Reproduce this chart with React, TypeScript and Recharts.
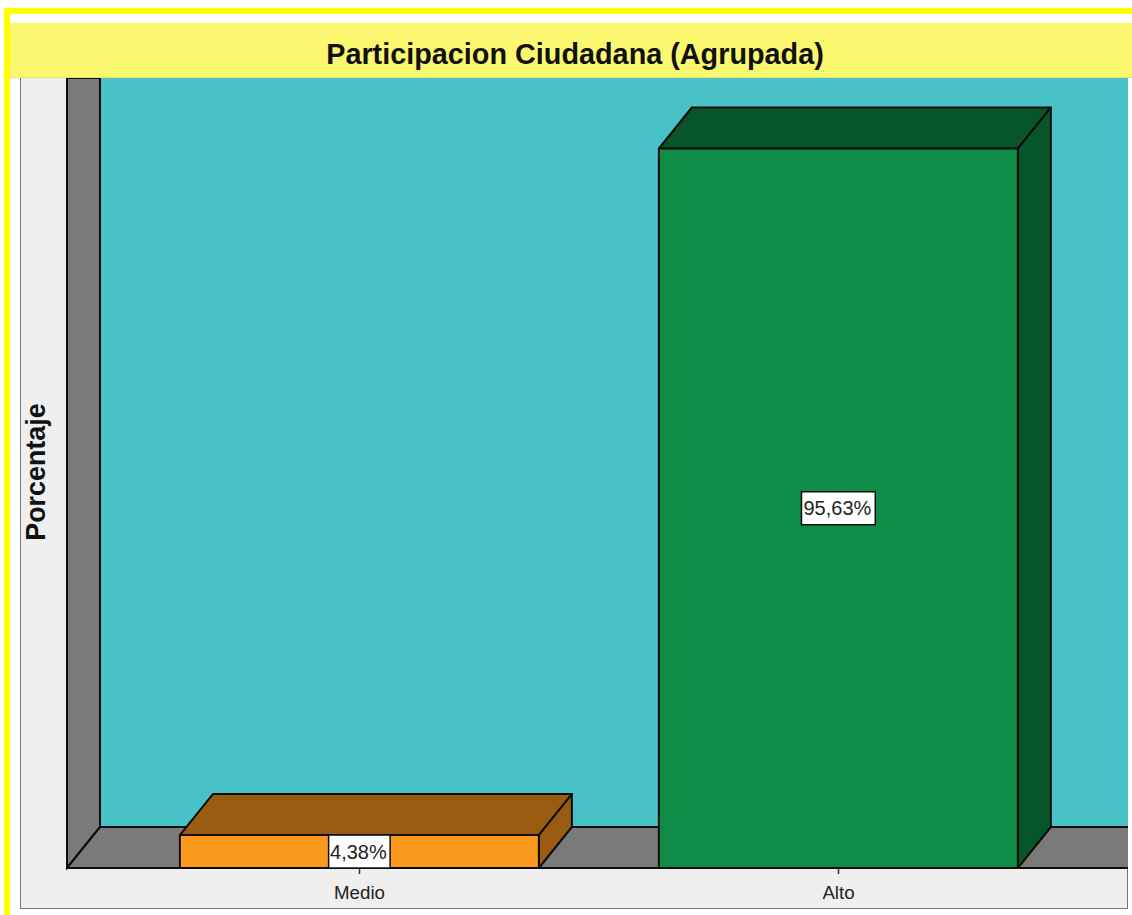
// App.tsx
import { BarChart, Bar, XAxis, YAxis, LabelList, usePlotArea } from "recharts"

const categories = ["Medio", "Alto"]
const percentages = [4.38, 95.63]
const chartTitle = "Participacion Ciudadana (Agrupada)"
const yTitle = "Porcentaje"

const data = categories.map((name, i) => ({ name, value: percentages[i] }))

const WIDTH = 1132
const HEIGHT = 915
// offset of the fake 3D depth
const DX = 33
const DY = 41

const INK = "#0d0d0d"
const barColors: Record<string, { front: string; top: string; side: string }> = {
  Medio: { front: "#fa981e", top: "#9a5c10", side: "#9a5c10" },
  Alto: { front: "#0e8c48", top: "#07562b", side: "#07562b" },
}

// back wall, side wall and floor behind the bars
function Walls() {
  const plot = usePlotArea()
  if (!plot) return null
  const { x, y, width, height } = plot
  const right = x + width
  const bottom = y + height
  return (
    <g>
      <rect x={x + DX} y={y} width={width - DX} height={height - DY} fill="#48c2c7" />
      <polygon
        points={`${x},${y} ${x + DX},${y} ${x + DX},${bottom - DY} ${x},${bottom}`}
        fill="#7a7a7a"
        stroke={INK}
        strokeWidth={2}
      />
      <polygon
        points={`${x},${bottom} ${x + DX},${bottom - DY} ${right},${bottom - DY} ${right},${bottom}`}
        fill="#7a7a7a"
      />
      {/* no stroke on the floor's right edge, it runs out into the panel */}
      <path
        d={`M${x},${bottom} L${x + DX},${bottom - DY} L${right},${bottom - DY}`}
        fill="none"
        stroke={INK}
        strokeWidth={2}
      />
    </g>
  )
}

function Bar3D(props: any) {
  const { x, y, width, height, name } = props
  const c = barColors[name]
  const r = x + width
  const b = y + height
  return (
    <g stroke={INK} strokeWidth={2} strokeLinejoin="round">
      <polygon points={`${x},${y} ${x + DX},${y - DY} ${r + DX},${y - DY} ${r},${y}`} fill={c.top} />
      <polygon points={`${r},${y} ${r + DX},${y - DY} ${r + DX},${b - DY} ${r},${b}`} fill={c.side} />
      <rect x={x} y={y} width={width} height={height} fill={c.front} />
    </g>
  )
}

function ValueBox(props: any) {
  const { x, y, width, height, value } = props
  const text = value.toFixed(2).replace(".", ",") + "%"
  const boxW = text.length * 12.3
  const boxH = 33
  const cx = x + width / 2
  const cy = y + height / 2
  return (
    <g>
      <rect x={cx - boxW / 2} y={cy - boxH / 2} width={boxW} height={boxH} fill="#fff" stroke={INK} strokeWidth={1.5} />
      <text x={cx - 1} y={cy + 7} textAnchor="middle" fontSize={20} fill="#222" fontFamily="Liberation Sans">
        {text}
      </text>
    </g>
  )
}

export default function App() {
  return (
    <div style={{ position: "fixed", left: 0, top: 0, width: WIDTH, height: HEIGHT, background: "#fff", overflow: "hidden", fontFamily: "Liberation Sans" }}>
      {/* yellow outer frame */}
      <div style={{ position: "absolute", left: 4, top: 8, width: WIDTH, height: HEIGHT, border: "6px solid #ffff00", borderRadius: 2 }} />
      {/* grey chart panel */}
      <div style={{ position: "absolute", left: 20, top: 70, width: 1108, height: 839, background: "#efefef", border: "1.5px solid #777", boxSizing: "border-box" }} />
      <div style={{ position: "absolute", left: 0, top: 0 }}>
        <BarChart
          width={WIDTH}
          height={HEIGHT}
          data={data}
          margin={{ top: 78, right: 4, bottom: 0, left: 67 }}
          barCategoryGap="12.5%"
        >
          <Walls />
          <XAxis
            dataKey="name"
            height={47}
            padding={{ left: 53, right: 50 }}
            axisLine={{ stroke: INK, strokeWidth: 2 }}
            tickLine={{ stroke: "#333", strokeWidth: 1.5 }}
            tickSize={6}
            dy={10}
            tick={{ fill: "#222", fontSize: 18.7, fontFamily: "Liberation Sans" }}
          />
          <YAxis hide domain={[0, 105]} />
          <Bar dataKey="value" shape={<Bar3D />} isAnimationActive={false}>
            <LabelList dataKey="value" content={<ValueBox />} />
          </Bar>
        </BarChart>
      </div>
      {/* title band */}
      <div style={{ position: "absolute", left: 10, top: 23, width: WIDTH - 10, height: 54, background: "#fbf76f", borderBottom: "1px solid #e8e36a", boxSizing: "content-box" }}>
        <div style={{ position: "absolute", left: 0, width: 1130, top: 15, textAlign: "center", fontSize: 28.8, fontWeight: 700, color: "#111" }}>
          {chartTitle}
        </div>
      </div>
      <div style={{ position: "absolute", left: 36, top: 472, transform: "translate(-50%,-50%) rotate(-90deg)", fontSize: 26.9, fontWeight: 700, color: "#111", whiteSpace: "nowrap" }}>
        {yTitle}
      </div>
    </div>
  )
}
